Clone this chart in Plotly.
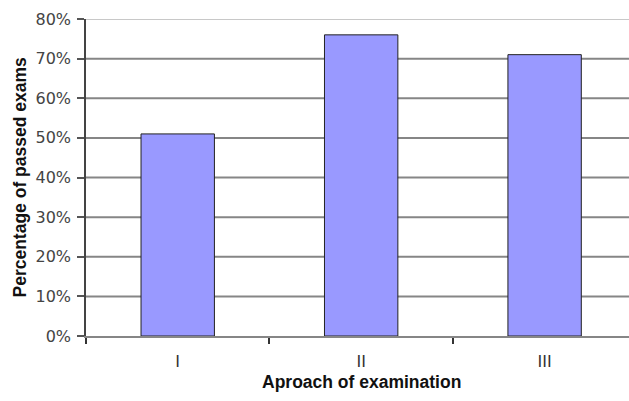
import plotly.graph_objects as go

# Share of passed exams for each examination approach
approaches = ["I", "II", "III"]
passed_share = [0.51, 0.76, 0.71]
y_ticks = [0.0, 0.1, 0.2, 0.3, 0.4, 0.5, 0.6, 0.7, 0.8]

fig = go.Figure()
fig.add_trace(go.Bar(
    x=approaches,
    y=passed_share,
    width=0.4,
    marker=dict(color="#9999FF", line=dict(color="#222222", width=1)),
))

# Horizontal guide lines; the top one is lighter
for v in y_ticks[1:]:
    fig.add_shape(
        type="line", xref="paper", x0=0, x1=1, yref="y", y0=v, y1=v,
        line=dict(color="#c8c8c8" if v == y_ticks[-1] else "#868686", width=2),
        layer="below",
    )

fig.update_layout(
    width=629,
    height=401,
    margin=dict(l=86, r=0, t=19, b=65),
    plot_bgcolor="white",
    paper_bgcolor="white",
    showlegend=False,
    font=dict(family="DejaVu Sans", size=16, color="#444444"),
    xaxis=dict(
        range=[-0.5, 2.46],
        tickson="boundaries",
        ticks="outside",
        ticklen=6,
        tickwidth=1.5,
        tickcolor="#333333",
        ticklabelstandoff=10,
        tickfont=dict(color="#333333"),
        showgrid=False,
        showline=True,
        linecolor="#868686",
        linewidth=2,
        zeroline=False,
    ),
    yaxis=dict(
        range=[0, 0.8],
        tickvals=y_ticks,
        tickformat=".0%",
        ticks="outside",
        ticklen=7,
        tickwidth=1.5,
        tickcolor="#555555",
        ticklabelstandoff=3,
        showgrid=False,
        showline=True,
        linecolor="#444444",
        linewidth=1.5,
        zeroline=False,
    ),
    annotations=[
        dict(
            text="<b>Percentage of passed exams</b>",
            xref="paper", yref="paper",
            x=(19 - 86) / 543, y=0.5,
            xanchor="center", yanchor="middle",
            textangle=-90, showarrow=False,
            font=dict(family="Liberation Sans", size=17.5, color="#111111"),
        ),
        dict(
            text="<b>Aproach of examination</b>",
            xref="x", yref="paper",
            x=1, y=-46 / 317,
            xanchor="center", yanchor="middle",
            showarrow=False,
            font=dict(family="Liberation Sans", size=17.5, color="#111111"),
        ),
    ],
)

fig.write_html("out.html")
